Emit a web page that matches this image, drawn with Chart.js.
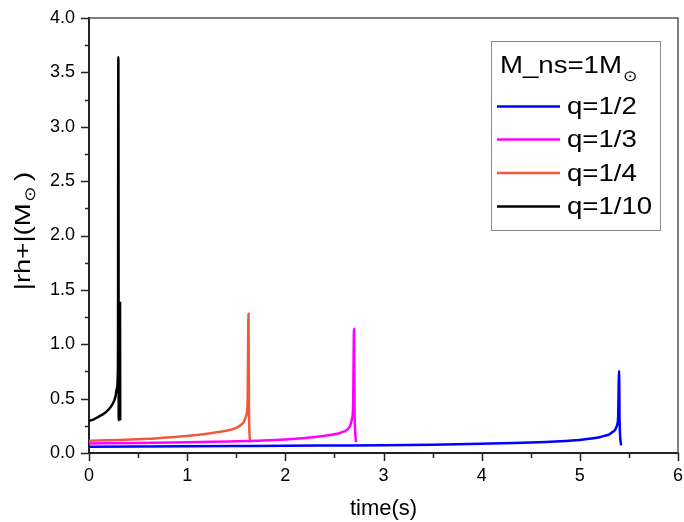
<!DOCTYPE html>
<html>
<head>
<meta charset="utf-8">
<script src="https://cdn.jsdelivr.net/npm/chart.js@4.4.1/dist/chart.umd.min.js"></script>
<style>
  html, body { margin: 0; padding: 0; background: #fff; }
  #wrap { width: 684px; height: 522px; }
</style>
</head>
<body>
<div id="wrap"><canvas id="chart"></canvas></div>
<script>
// series
const seriesLabels = ["q=1/2", "q=1/3", "q=1/4", "q=1/10"];
const seriesColors = ["#0000ff", "#ff00ff", "#ec5b3d", "#000000"];

const timeQ2 = [0, 0.5, 1.0, 1.5, 2.0, 2.5, 3.0, 3.5, 4.0, 4.5, 4.8, 5.0, 5.1, 5.2, 5.25, 5.3, 5.33, 5.36, 5.38, 5.39, 5.40, 5.405, 5.42];
const rhQ2 = [0.058, 0.060, 0.062, 0.064, 0.066, 0.069, 0.072, 0.077, 0.085, 0.096, 0.108, 0.120, 0.130, 0.145, 0.157, 0.172, 0.190, 0.215, 0.26, 0.33, 0.755, 0.30, 0.07];

const timeQ3 = [0, 0.5, 1.0, 1.5, 2.0, 2.2, 2.4, 2.5, 2.55, 2.6, 2.63, 2.66, 2.68, 2.69, 2.70, 2.705, 2.72];
const rhQ3 = [0.088, 0.093, 0.099, 0.107, 0.125, 0.138, 0.158, 0.172, 0.182, 0.198, 0.215, 0.25, 0.32, 0.42, 1.14, 0.40, 0.10];

const timeQ4 = [0, 0.3, 0.6, 0.9, 1.1, 1.3, 1.4, 1.5, 1.55, 1.58, 1.60, 1.615, 1.625, 1.63, 1.64];
const rhQ4 = [0.113, 0.120, 0.130, 0.150, 0.165, 0.190, 0.205, 0.232, 0.26, 0.29, 0.34, 0.45, 1.28, 0.40, 0.10];

const timeQ10 = [0, 0.05, 0.1, 0.15, 0.2, 0.24, 0.27, 0.285, 0.295, 0.299, 0.303, 0.316, 0.318];
const rhQ10 = [0.295, 0.31, 0.335, 0.36, 0.40, 0.45, 0.52, 0.60, 0.80, 3.64, 0.30, 1.38, 0.30];

const xMajor = [0, 1, 2, 3, 4, 5, 6];
const xMinor = [0.5, 1.5, 2.5, 3.5, 4.5, 5.5];
const yMajor = [0, 0.5, 1.0, 1.5, 2.0, 2.5, 3.0, 3.5, 4.0];
const yMinor = [0.25, 0.75, 1.25, 1.75, 2.25, 2.75, 3.25, 3.75];

const FONT = "'Liberation Sans', Arial, sans-serif";

const toPoints = (ts, vs) => ts.map((t, i) => ({ x: t, y: vs[i] }));
const seriesTimes = [timeQ2, timeQ3, timeQ4, timeQ10];
const seriesValues = [rhQ2, rhQ3, rhQ4, rhQ10];

const datasets = seriesLabels.map((label, i) => ({
  label,
  data: toPoints(seriesTimes[i], seriesValues[i]),
  borderColor: seriesColors[i],
  borderWidth: 2.5,
  pointRadius: 0,
  cubicInterpolationMode: "monotone",
  fill: false,
}));

// origin-style frame: outward ticks, top/right border, boxed legend
const framePlugin = {
  id: "frame",
  afterDraw(chart) {
    const { ctx, chartArea: a, scales } = chart;
    ctx.save();
    ctx.strokeStyle = "#555";
    ctx.lineWidth = 1.5;
    ctx.beginPath();
    ctx.moveTo(a.left, a.top);
    ctx.lineTo(a.right, a.top);
    ctx.lineTo(a.right, a.bottom);
    ctx.stroke();

    ctx.strokeStyle = "#222";
    ctx.beginPath();
    const tickY = (v, len) => {
      const y = Math.round(scales.y.getPixelForValue(v)) + 0.5;
      ctx.moveTo(a.left, y);
      ctx.lineTo(a.left - len, y);
    };
    const tickX = (v, len) => {
      const x = Math.round(scales.x.getPixelForValue(v)) + 0.5;
      ctx.moveTo(x, a.bottom);
      ctx.lineTo(x, a.bottom + len);
    };
    yMajor.forEach((v) => tickY(v, 8));
    yMinor.forEach((v) => tickY(v, 4));
    xMajor.forEach((v) => tickX(v, 8));
    xMinor.forEach((v) => tickX(v, 5));
    ctx.stroke();

    // y title with subscript sun symbol (origin text is drawn wide)
    ctx.fillStyle = "#000";
    ctx.textBaseline = "middle";
    ctx.translate(24, 231);
    ctx.rotate(-Math.PI / 2);
    ctx.scale(1.25, 1);
    const main = "|rh+|(M";
    ctx.font = "22px " + FONT;
    const w1 = ctx.measureText(main).width;
    ctx.font = "15px " + FONT;
    const w2 = ctx.measureText("\u2299").width;
    ctx.font = "22px " + FONT;
    const w3 = ctx.measureText(")").width;
    const x0 = -(w1 + w2 + 5 + w3) / 2;
    ctx.textAlign = "left";
    ctx.fillText(main, x0, 0);
    ctx.font = "15px " + FONT;
    ctx.fillText("\u2299", x0 + w1 + 1, 7);
    ctx.font = "22px " + FONT;
    ctx.fillText(")", x0 + w1 + w2 + 5, 0);
    ctx.restore();

    // legend
    ctx.save();
    ctx.fillStyle = "#fff";
    ctx.fillRect(491, 41, 169, 189);
    ctx.strokeStyle = "#888";
    ctx.lineWidth = 1;
    ctx.strokeRect(491.5, 41.5, 169, 189);
    ctx.fillStyle = "#000";
    ctx.textAlign = "left";
    const sx = 1.15;
    const wideText = (txt, x, y) => {
      ctx.save();
      ctx.translate(x, y);
      ctx.scale(sx, 1);
      ctx.fillText(txt, 0, 0);
      const w = ctx.measureText(txt).width * sx;
      ctx.restore();
      return w;
    };
    ctx.textBaseline = "alphabetic";
    ctx.font = "24px " + FONT;
    const tw = wideText("M_ns=1M", 500, 73);
    ctx.font = "15px " + FONT;
    wideText("\u2299", 500 + tw + 1, 81);
    ctx.font = "24px " + FONT;
    ctx.textBaseline = "middle";
    const rows = [106.5, 139.5, 173, 206.5];
    chart.data.datasets.forEach((ds, i) => {
      ctx.strokeStyle = ds.borderColor;
      ctx.lineWidth = 2.5;
      ctx.beginPath();
      ctx.moveTo(497, rows[i]);
      ctx.lineTo(560, rows[i]);
      ctx.stroke();
      wideText(ds.label, 567, rows[i] + 1);
    });
    ctx.restore();
  },
};

new Chart(document.getElementById("chart"), {
  type: "line",
  data: { datasets },
  options: {
    responsive: true,
    maintainAspectRatio: false,
    animation: false,
    devicePixelRatio: 1,
    layout: { padding: { top: 18, right: 6, left: 0, bottom: 0 } },
    plugins: { legend: { display: false }, tooltip: { enabled: false } },
    scales: {
      x: {
        type: "linear",
        min: 0,
        max: 6,
        ticks: { stepSize: 1, color: "#000", font: { family: FONT, size: 18 }, padding: 12 },
        grid: { drawOnChartArea: false, drawTicks: false },
        border: { color: "#222", width: 2 },
        title: { display: true, text: "time(s)", color: "#000", font: { family: FONT, size: 22 }, padding: 0 },
        afterFit(s) { s.height = 69; s.paddingLeft = 0; s.paddingRight = 0; },
      },
      y: {
        min: 0,
        max: 4,
        ticks: {
          stepSize: 0.5,
          color: "#000",
          font: { family: FONT, size: 18 },
          padding: 14,
          callback: (v) => v.toFixed(1),
        },
        grid: { drawOnChartArea: false, drawTicks: false },
        border: { color: "#222", width: 2 },
        afterFit(s) { s.width = 89; s.paddingTop = 0; s.paddingBottom = 0; },
      },
    },
  },
  plugins: [framePlugin],
});
</script>
</body>
</html>
